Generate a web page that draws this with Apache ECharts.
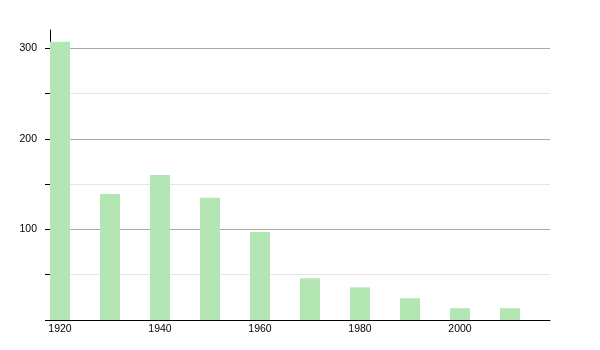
<!DOCTYPE html>
<html><head><meta charset="utf-8">
<script src="https://cdn.jsdelivr.net/npm/echarts@6/dist/echarts.min.js"></script>
<style>html,body{margin:0;padding:0;background:#fff}#c{width:600px;height:350px}</style>
</head><body><div id="c"></div>
<script>
const years = [1920, 1930, 1940, 1950, 1960, 1970, 1980, 1990, 2000, 2010];
const population = [307, 139, 160, 135, 97, 46, 36, 24, 13, 13];
const xTickLabels = [1920, 1940, 1960, 1980, 2000];
const yTickLabels = [100, 200, 300];
const yTickMarks = [0, 50, 100, 150, 200, 250, 300];

const chart = echarts.init(document.getElementById('c'), null, {renderer: 'canvas'});
chart.setOption({
  animation: false,
  backgroundColor: '#fff',
  grid: {left: 50, right: 50, top: 30, bottom: 30},
  xAxis: {
    type: 'value', min: 1918, max: 2018,
    axisLine: {lineStyle: {color: '#000', width: 1}},
    axisTick: {show: false},
    splitLine: {show: false},
    axisLabel: {customValues: xTickLabels, formatter: v => String(v), color: '#000', fontSize: 10.5, fontFamily: 'Liberation Sans, Arial, sans-serif', margin: 4}
  },
  yAxis: {
    type: 'value', min: 0, max: 320, interval: 50,
    axisLine: {show: true, lineStyle: {color: '#000', width: 1}},
    axisTick: {show: true, customValues: yTickMarks, length: 5, lineStyle: {color: '#000'}},
    axisLabel: {
      customValues: yTickLabels,
      color: '#000', fontSize: 10.5, fontFamily: 'Liberation Sans, Arial, sans-serif', margin: 13,
      formatter: v => String(v)
    },
    splitLine: {show: true, lineStyle: {color: ['#aaaaaa', '#e6e6e6', '#aaaaaa', '#e6e6e6', '#aaaaaa', '#e6e6e6', '#aaaaaa', 'rgba(0,0,0,0)'], width: 1}}
  },
  series: [{
    type: 'bar',
    barWidth: 20,
    data: years.map((y, i) => [y, population[i]]),
    itemStyle: {color: '#b3e6b3'}
  }]
});
</script></body></html>
